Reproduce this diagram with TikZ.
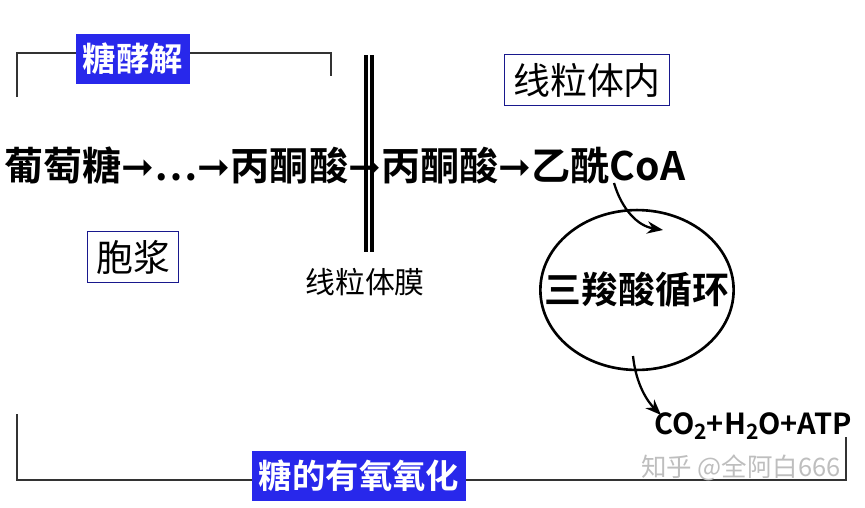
\documentclass[tikz,border=0pt]{standalone}
\usepackage{fontspec}
\setmainfont{Noto Sans CJK SC}
\newfontfamily\cjkb{Noto Sans CJK SC Bold}
\newfontfamily\djv{DejaVu Sans Bold}
\usetikzlibrary{arrows.meta,shapes.geometric}
\definecolor{lblue}{RGB}{40,40,235}
\definecolor{wm}{RGB}{190,190,190}
\newcommand{\ra}{{\djv\char"279E}}
\newcommand{\sbs}[1]{\raisebox{-0.3ex}{\fontsize{12}{12}\selectfont #1}}
\tikzset{
  brk/.style={draw=black!80, line width=0.8pt},
  tagbox/.style={fill=lblue, text=white, font=\cjkb\fontsize{19}{19}\selectfont, inner xsep=4pt, inner ysep=5pt},
  outbox/.style={draw=lblue!60!black, line width=0.6pt, font=\fontsize{21}{21}\selectfont, inner sep=5pt},
  maintxt/.style={font=\cjkb\fontsize{22.3}{22}\selectfont, anchor=west, inner sep=0pt},
  arr/.style={-{Stealth[length=9pt,width=7pt]}, line width=1.3pt}
}
\begin{document}
\begin{tikzpicture}[x=0.02cm,y=-0.02cm]
\useasboundingbox (0,0) rectangle (865,507);
% top-left bracket
\coordinate (tl1) at (17,97);
\coordinate (tl2) at (17,53);
\coordinate (tl3) at (331,53);
\coordinate (tl4) at (331,76);
\draw[brk] (tl1) -- (tl2) -- (tl3) -- (tl4);
\node[tagbox] (gly) at (133,59) {糖酵解};
% membrane
\coordinate (m1) at (366,55); \coordinate (m1b) at (366,252);
\coordinate (m2) at (372,55); \coordinate (m2b) at (372,252);
\draw[line width=1.8pt] (m1) -- (m1b);
\draw[line width=1.8pt] (m2) -- (m2b);
\node[font=\fontsize{17}{17}\selectfont] (mem) at (365,282) {线粒体膜};
\node[outbox] (mito) at (587,80) {线粒体内};
\node[outbox] (cyto) at (133,257) {胞浆};
% main row
\node[maintxt] (row) at (4,165) {葡萄糖\ra{}…\ra{}丙酮酸\ra{}丙酮酸\ra{}乙酰CoA};
% cycle
\node[draw, ellipse, line width=1.5pt, minimum width=110pt, minimum height=91pt, inner sep=0pt] (tca) at (637,290) {};
\node[font=\cjkb\fontsize{21}{21}\selectfont] (tcat) at (637,290) {三羧酸循环};
\node[font=\cjkb\fontsize{16.5}{17}\selectfont] (prod) at (753,426) {CO\sbs{2}+H\sbs{2}O+ATP};
\coordinate (a1) at (614,183);
\coordinate (a2) at (663,230);
\draw[arr] (a1) .. controls (622,210) and (638,226) .. (a2);
\coordinate (b1) at (633,356);
\coordinate (b2) at (661,415);
\draw[arr] (b1) .. controls (636,385) and (648,402) .. (b2);
% bottom bracket
\coordinate (bl1) at (17,414);
\coordinate (bl2) at (17,480);
\coordinate (bl3) at (846,480);
\coordinate (bl4) at (846,437);
\draw[brk] (bl1) -- (bl2) -- (bl3) -- (bl4);
\node[tagbox] (aer) at (359,476) {糖的有氧氧化};
\node[text=wm, font=\fontsize{14.5}{15}\selectfont] (wmk) at (741,468) {知乎 @全阿白666};
\end{tikzpicture}
\end{document}
